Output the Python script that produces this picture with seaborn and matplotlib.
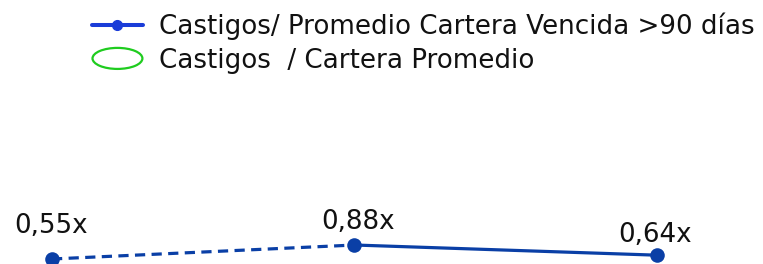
import matplotlib
matplotlib.use("Agg")
import matplotlib.pyplot as plt
import seaborn as sns
import pandas as pd
from matplotlib.lines import Line2D
from matplotlib.patches import Ellipse, Patch
from matplotlib.legend_handler import HandlerPatch

# data
periods = [0, 1, 2]
ratio_vencida = [0.55, 0.88, 0.64]
value_labels = ["0,55x", "0,88x", "0,64x"]
series_names = ["Castigos/ Promedio Cartera Vencida >90 días", "Castigos  / Cartera Promedio"]

sns.set_style("white")
plt.rcParams["font.family"] = ["DejaVu Sans"]

W, H = 763, 264
fig = plt.figure(figsize=(W / 100, H / 100), dpi=100)
ax = fig.add_axes([0, 0, 1, 1])

df = pd.DataFrame({"x": periods, "y": ratio_vencida})
line_color = "#0a3fa6"
sns.lineplot(data=df.iloc[:2], x="x", y="y", ax=ax, color=line_color, lw=2.3,
             linestyle=(0, (3.2, 2.0)))
sns.lineplot(data=df.iloc[1:], x="x", y="y", ax=ax, color=line_color, lw=2.3)
sns.scatterplot(data=df, x="x", y="y", ax=ax, color=line_color, s=110,
                edgecolor=line_color, linewidth=0, zorder=5)

fs = 18.8
offsets = [(-1, 33), (4, 23.5), (-2, 20.5)]
for xv, yv, lab, (dx, dy) in zip(periods, ratio_vencida, value_labels, offsets):
    ax.annotate(lab, (xv, yv), xytext=(dx * 0.72, dy * 0.72), textcoords="offset points",
                ha="center", va="center", fontsize=fs, color="#111111")

xscale = 302.5
ax.set_xlim(-52 / xscale, (W - 52) / xscale)
yscale = 42.4
ybot = 0.55 - 5 / yscale
ax.set_ylim(ybot, ybot + H / yscale)
ax.axis("off")


def make_ellipse(legend, orig_handle, xdescent, ydescent, width, height, fontsize):
    return Ellipse(xy=(width / 2 - xdescent, height / 2 - ydescent),
                   width=width * 0.98, height=height * 1.15)


handles = [
    Line2D([], [], color="#1a3cd8", lw=2.9, marker="o", markersize=7),
    Patch(facecolor="white", edgecolor="#1fcc1f", linewidth=1.6),
]
fig.legend(handles, series_names, loc="upper left",
           bbox_to_anchor=(92 / W, 1 - 13 / H), frameon=False, fontsize=fs,
           borderpad=0, borderaxespad=0, handlelength=1.95, handletextpad=0.62,
           labelspacing=0.27, labelcolor="#111111",
           handler_map={Patch: HandlerPatch(patch_func=make_ellipse)})

fig.savefig("out.png", dpi=100)
